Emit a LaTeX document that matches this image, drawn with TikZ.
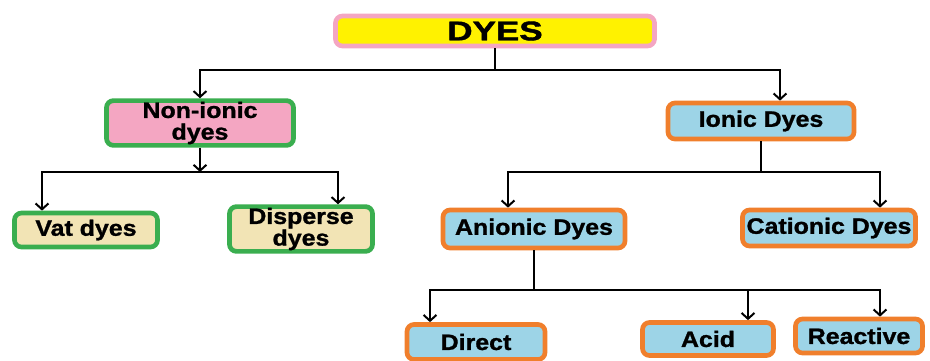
\documentclass[tikz,border=0pt]{standalone}
\usepackage{fontspec}
\usetikzlibrary{arrows.meta}
\setmainfont{Liberation Sans}
\newfontfamily\boxfont[FakeStretch=1.12, BoldFeatures={FakeBold=1.2}]{Liberation Sans}
\newfontfamily\titlefont[FakeStretch=1.3, BoldFeatures={FakeBold=1.5}]{Liberation Sans}
\definecolor{dyeyellow}{HTML}{FFF200}
\definecolor{dyepink}{HTML}{F4A6C2}
\definecolor{dyegreen}{HTML}{3AAE4F}
\definecolor{dyewheat}{HTML}{F2E4B5}
\definecolor{dyeblue}{HTML}{9DD4E7}
\definecolor{dyeorange}{HTML}{F07F2C}

\begin{document}
\begin{tikzpicture}[x=0.03cm, y=-0.03cm, >={Straight Barb[length=5pt,width=11pt]},
  box/.style={draw, rounded corners=6pt, line width=4pt, align=center, inner sep=1pt,
    font=\boxfont\fontsize{19}{18.5}\selectfont\bfseries},
  greenbox/.style={box, draw=dyegreen, fill=dyewheat},
  orangebox/.style={box, draw=dyeorange, fill=dyeblue},
  link/.style={line width=1.7pt}]
\useasboundingbox (0,0) rectangle (930,360);

\node[box, draw=dyepink, fill=dyeyellow, minimum width=9.57cm, minimum height=0.9cm,
  font=\titlefont\fontsize{23}{24}\selectfont\bfseries] (dyes) at (495,31) {DYES};
\node[greenbox, fill=dyepink, minimum width=5.61cm, minimum height=1.14cm] (nonionic) at (200,123) {Non-ionic\\dyes};
\node[orangebox, minimum width=5.58cm, minimum height=1.08cm] (ionic) at (761,121) {Ionic Dyes};

\node[greenbox, minimum width=4.29cm, minimum height=1.02cm] (vat) at (86,230) {Vat dyes};
\node[greenbox, minimum width=4.29cm, minimum height=1.11cm] (disperse) at (301,229) {Disperse\\dyes};
\node[orangebox, minimum width=5.46cm, minimum height=1.14cm] (anionic) at (534,229) {Anionic Dyes};
\node[orangebox, minimum width=5.19cm, minimum height=1.08cm] (cationic) at (829,228) {Cationic Dyes};

\node[orangebox, minimum width=4.14cm, minimum height=1.05cm] (direct) at (476,342) {Direct};
\node[orangebox, minimum width=3.93cm, minimum height=0.99cm] (acid) at (708,339) {Acid};
\node[orangebox, minimum width=3.81cm, minimum height=1.02cm] (reactive) at (859,336) {Reactive};

\coordinate (dsplit) at (495,70);
\coordinate (nsplit) at (200,172);
\coordinate (isplit) at (761,172);
\coordinate (asplit) at (534,290);

\draw[link] (dyes.south) -- (dsplit);
\draw[link, ->] (dsplit) -| (nonionic.north);
\draw[link, ->] (dsplit) -| ([xshift=0.57cm]ionic.north);

\draw[link, ->] (nonionic.south) -- (nsplit);
\draw[link, ->] (nsplit) -| ([xshift=-1.32cm]vat.north);
\draw[link, ->] (nsplit) -| ([xshift=1.11cm]disperse.north);

\draw[link] (ionic.south) -- (isplit);
\draw[link, ->] (isplit) -| ([xshift=-0.78cm]anionic.north);
\draw[link, ->] (isplit) -| ([xshift=1.53cm]cationic.north);

\draw[link] (anionic.south) -- (asplit);
\draw[link, ->] (asplit) -| ([xshift=-1.38cm]direct.north);
\draw[link, ->] (asplit) -| ([xshift=1.2cm]acid.north);
\draw[link, ->] (asplit) -| ([xshift=0.63cm]reactive.north);
\end{tikzpicture}
\end{document}
